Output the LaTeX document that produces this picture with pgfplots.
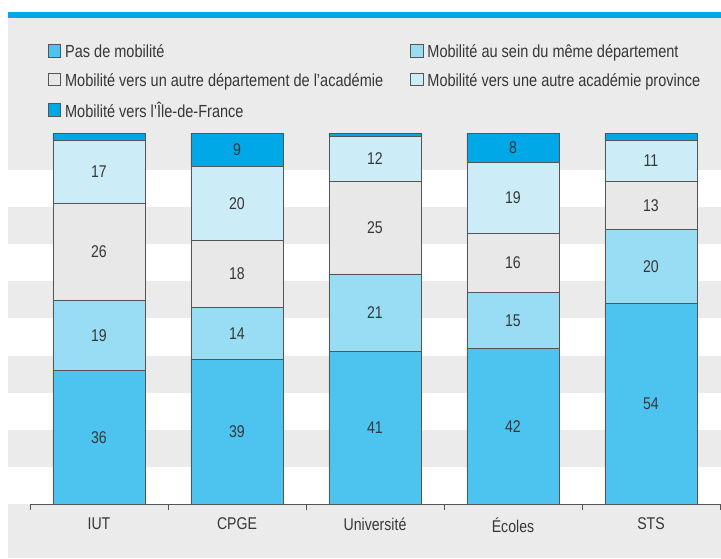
\documentclass[border=0pt]{standalone}
\usepackage{pgfplots}
\pgfplotsset{compat=1.18}
\usepackage{fontspec}
\setmainfont{Liberation Sans}[FakeStretch=0.83]
\definecolor{cPas}{RGB}{77,196,240}
\definecolor{cDep}{RGB}{153,221,245}
\definecolor{cAca}{RGB}{232,232,232}
\definecolor{cProv}{RGB}{204,236,248}
\definecolor{cIdf}{RGB}{0,168,232}
\definecolor{bg}{RGB}{235,235,235}
\definecolor{edge}{RGB}{85,85,85}
\definecolor{txt}{RGB}{55,55,55}
\begin{document}
\begin{tikzpicture}[x=1pt,y=1pt]
\useasboundingbox (0,0) rectangle (721,558);
\fill[bg] (8,0) rectangle (721,540);
\fill[cIdf] (8,540) rectangle (721,546);
\foreach \k in {0,2,4,6,8}{
  \fill[white] (8,{54+37.1*\k}) rectangle (721,{54+37.1*(\k+1)});
}
\begin{axis}[
  at={(30pt,54pt)}, anchor=south west,
  scale only axis, width=690pt, height=371pt,
  xmin=-0.5, xmax=4.5, ymin=0, ymax=100,
  ybar stacked, bar width=92pt,
  axis x line*=bottom, axis y line=none,
  axis line style={edge, line width=0.8pt},
  xtick={0,1,2,3,4},
  xticklabels={IUT,CPGE,Université,Écoles,STS},
  minor xtick={-0.5,0.5,1.5,2.5,3.5,4.5},
  major tick length=0pt, minor tick length=6pt,
  tick align=outside,
  minor tick style={edge, line width=0.8pt},
  xticklabel style={font=\fontsize{17}{19}\selectfont, text=txt, yshift=-10pt},
  every axis plot/.append style={draw=edge, line width=0.8pt},
  visualization depends on={rawy \as \rawy},
  nodes near coords={\pgfmathtruncatemacro\v{\rawy}\ifnum\v<5 \else\v\fi},
  every node near coord/.append style={font=\fontsize{17}{19}\selectfont, text=txt, anchor=center},
  legend columns=2,
  legend cell align=left,
  legend style={draw=none, fill=none, at={(axis description cs:0.026,1.244)}, anchor=north west,
    inner sep=0pt, outer sep=0pt,
    font=\fontsize{17.5}{19}\selectfont, text=txt,
    row sep=12pt,
    /tikz/every even column/.append style={column sep=25pt},
    nodes={inner sep=2pt, text depth=0pt},
    /tikz/every odd column/.append style={column sep=2pt}},
  legend image code/.code={\draw[#1, draw=edge, line width=0.7pt] (0pt,-6pt) rectangle (12.5pt,6.5pt);},
]
\addplot[fill=cPas] coordinates {(0,36) (1,39) (2,41) (3,42) (4,54)};
\addplot[fill=cDep] coordinates {(0,19) (1,14) (2,21) (3,15) (4,20)};
\addplot[fill=cAca] coordinates {(0,26) (1,18) (2,25) (3,16) (4,13)};
\addplot[fill=cProv] coordinates {(0,17) (1,20) (2,12) (3,19) (4,11)};
\addplot[fill=cIdf] coordinates {(0,2) (1,9) (2,1) (3,8) (4,2)};
\legend{Pas de mobilité, Mobilité au sein du même département, Mobilité vers un autre département de l'académie, Mobilité vers une autre académie province, Mobilité vers l'Île-de-France}
\end{axis}
\end{tikzpicture}
\end{document}
